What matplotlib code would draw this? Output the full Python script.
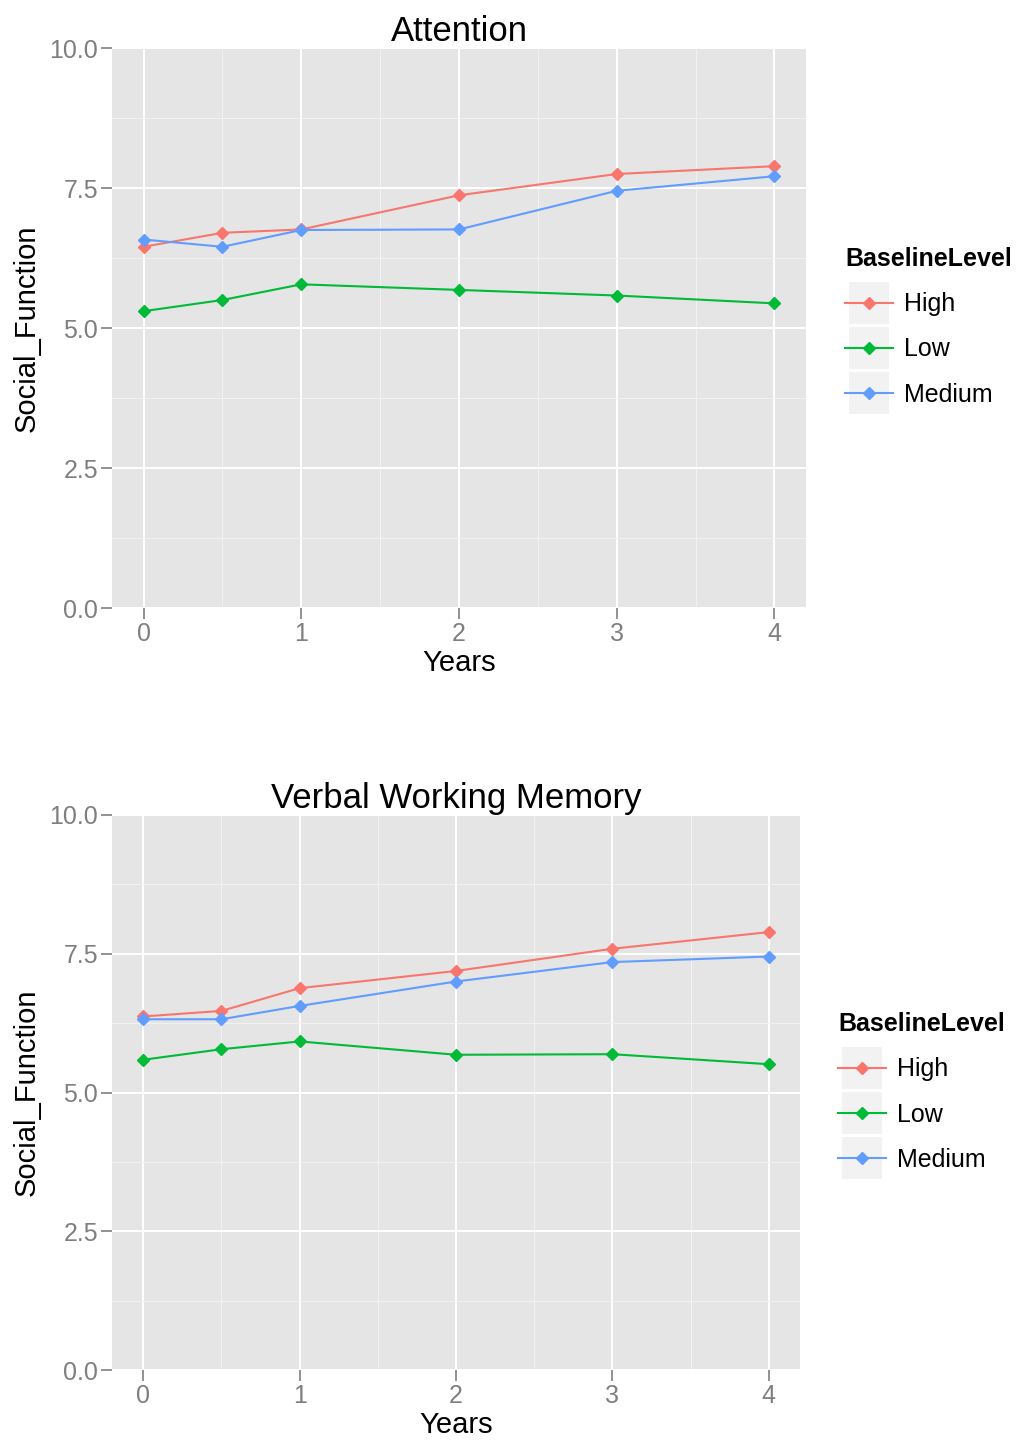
import matplotlib
matplotlib.use("Agg")
import matplotlib.pyplot as plt
from matplotlib.patches import Rectangle

plt.rcParams['font.family'] = ['Liberation Sans', 'DejaVu Sans']

years = [0, 0.5, 1, 2, 3, 4]
levels = ["High", "Low", "Medium"]
colors = {"High": "#F8766D", "Low": "#00BA38", "Medium": "#619CFF"}

attention_high = [6.45, 6.70, 6.76, 7.37, 7.75, 7.89]
attention_low = [5.30, 5.50, 5.78, 5.68, 5.58, 5.44]
attention_medium = [6.58, 6.45, 6.75, 6.76, 7.45, 7.71]

verbal_high = [6.37, 6.47, 6.88, 7.19, 7.59, 7.89]
verbal_low = [5.59, 5.78, 5.92, 5.68, 5.69, 5.51]
verbal_medium = [6.32, 6.32, 6.56, 7.00, 7.35, 7.45]

x_ticks = [0, 1, 2, 3, 4]
y_ticks = [0.0, 2.5, 5.0, 7.5, 10.0]

W, H = 1019, 1447
fig = plt.figure(figsize=(W / 100, H / 100), dpi=100)


def panel(rect, title, series, leg_pos):
    ax = fig.add_axes(rect)
    ax.set_facecolor("#E5E5E5")
    for s in ax.spines.values():
        s.set_visible(False)
    ax.set_xlim(-0.2, 4.2)
    ax.set_ylim(0, 10)
    ax.set_xticks(x_ticks)
    ax.set_xticklabels([str(t) for t in x_ticks])
    ax.set_yticks(y_ticks)
    ax.set_yticklabels(["%.1f" % t for t in y_ticks])
    ax.set_xticks([0.5, 1.5, 2.5, 3.5], minor=True)
    ax.set_yticks([1.25, 3.75, 6.25, 8.75], minor=True)
    ax.grid(True, which="major", color="white", linewidth=1.4)
    ax.grid(True, which="minor", color="#F2F2F2", linewidth=0.7)
    ax.set_axisbelow(True)
    ax.tick_params(which="major", length=8, color="#7F7F7F", labelcolor="#7F7F7F",
                   labelsize=18, width=1.2, pad=2)
    ax.tick_params(which="minor", length=0)
    ax.set_xlabel("Years", fontsize=21, labelpad=2)
    ax.set_ylabel("Social_Function", fontsize=21, labelpad=6)
    ax.set_title(title, fontsize=25, pad=3)
    handles = []
    for lev, vals in zip(levels, series):
        h, = ax.plot(years, vals, color=colors[lev], linewidth=1.5,
                     marker="D", markersize=6, label=lev)
        handles.append(h)
    leg = fig.legend(handles=handles, labels=levels, title="BaselineLevel",
                     loc="upper left", bbox_to_anchor=leg_pos, frameon=False,
                     fontsize=18, title_fontproperties={"weight": "bold", "size": 18},
                     handlelength=1.9, handletextpad=0.45, labelspacing=0.85,
                     alignment="left", borderaxespad=0, borderpad=0)
    return ax, leg


ax1, leg1 = panel([112 / W, 1 - 608 / H, 694 / W, 560 / H], "Attention",
                  [attention_high, attention_low, attention_medium],
                  (845 / W, 1 - 247 / H))
ax2, leg2 = panel([112 / W, 1 - 1370 / H, 688 / W, 555 / H], "Verbal Working Memory",
                  [verbal_high, verbal_low, verbal_medium],
                  (838 / W, 1 - 1012 / H))

# grey key backgrounds behind the legend handles
fig.canvas.draw()
for leg in (leg1, leg2):
    for h in leg.legend_handles:
        bb = h.get_window_extent()
        cx = (bb.x0 + bb.x1) / 2
        cy = (bb.y0 + bb.y1) / 2
        fig.patches.append(Rectangle(((cx - 20) / W, (cy - 21) / H), 40 / W, 42 / H,
                                     transform=fig.transFigure, facecolor="#F2F2F2",
                                     edgecolor="none", zorder=-1))

fig.savefig("out.png", dpi=100)
